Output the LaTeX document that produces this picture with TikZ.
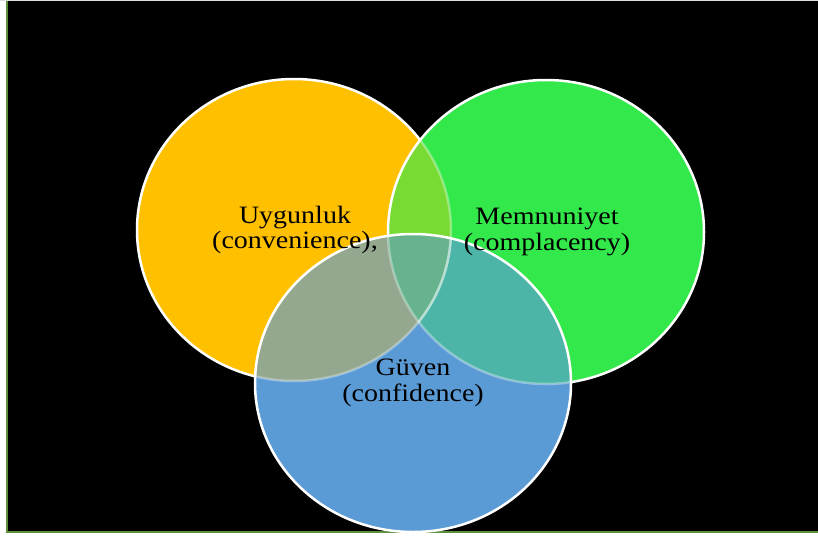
\documentclass[tikz,border=0pt]{standalone}
\usepackage{fontspec}
\setmainfont{Liberation Serif}
\definecolor{uygOrange}{HTML}{FFC000}
\definecolor{memGreen}{HTML}{33E84A}
\definecolor{guvBlue}{HTML}{5B9BD5}
\definecolor{ugMix}{HTML}{77DB33}
\definecolor{ubMix}{HTML}{93A88E}
\definecolor{mbMix}{HTML}{4CB5A8}
\definecolor{allMix}{HTML}{66B38E}
\definecolor{frameGreen}{HTML}{5E8F3C}

\def \ringWidth {2.5pt}
\def \uygShape {(294,230) ellipse [x radius=157, y radius=151]}
\def \memShape {(546,232) ellipse [x radius=158, y radius=152]}
\def \guvShape {(413,383) ellipse [x radius=158, y radius=149]}

\begin{document}
\begin{tikzpicture}[x=1pt,y=-1pt,
    label/.style={align=center,font=\fontsize{25}{25.5}\selectfont,text=black,xscale=1.12}]
         \useasboundingbox (0,0) rectangle (818,538);
         \fill[white] (0,0) rectangle (818,538);
         \fill[black] (7,1) rectangle (818,532);
         \draw[black!12,line width=1pt] (0,0.5) -- (818,0.5);
         \draw[frameGreen,line width=2pt] (7,1) -- (7,532) -- (818,532);

         % the three sets
         \fill[uygOrange] \uygShape;
         \draw[white,line width=\ringWidth] \uygShape;
         \fill[memGreen] \memShape;
         \begin{scope}
            \clip \uygShape;
            \fill[ugMix] \memShape;
         \end{scope}
         \draw[white,line width=\ringWidth] \memShape;
         \fill[guvBlue] \guvShape;
         \begin{scope}
            \clip \guvShape;
            \fill[ubMix] \uygShape;
            \fill[mbMix] \memShape;
            \clip \uygShape;
            \fill[allMix] \memShape;
         \end{scope}

         % rims seen through the upper sets
         \begin{scope}
            \clip \memShape;
            \draw[white,opacity=0.35,line width=\ringWidth] \uygShape;
         \end{scope}
         \begin{scope}
            \clip \guvShape;
            \draw[white,opacity=0.35,line width=\ringWidth] \uygShape;
            \draw[white,opacity=0.35,line width=\ringWidth] \memShape;
         \end{scope}
         \draw[white,line width=\ringWidth] \guvShape;

         \node[label] (uyg) at (295,230) {Uygunluk\\(convenience),};
         \node[label] (mem) at (547,232) {Memnuniyet\\(complacency)};
         \node[label] (guv) at (413,383) {Güven\\(confidence)};
      \end{tikzpicture}
\end{document}
